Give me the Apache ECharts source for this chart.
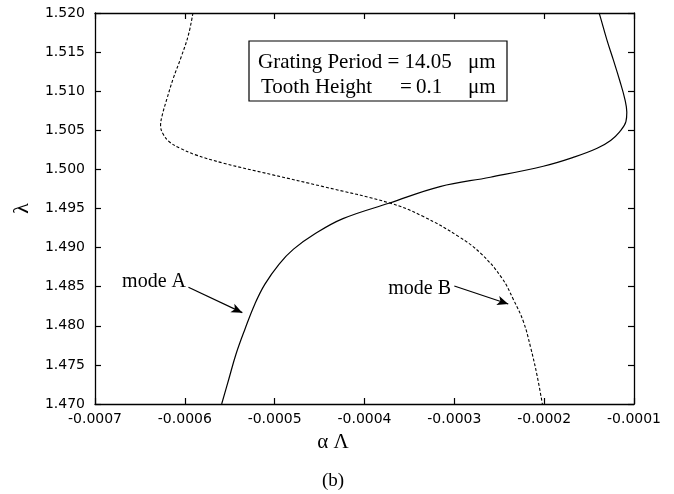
<!DOCTYPE html>
<html>
<head>
<meta charset="utf-8">
<script src="https://cdn.jsdelivr.net/npm/echarts@6/dist/echarts.min.js"></script>
<style>html,body{margin:0;padding:0;background:#fff}#chart{width:674px;height:494px}</style>
</head>
<body>
<div id="chart"></div>
<script>
// Mode A (solid curve): alpha*Lambda vs lambda
const modeA_x = [-0.000559, -0.000551, -0.000543, -0.000533, -0.000522, -0.000511, -0.000495, -0.000479, -0.000456, -0.000424, -0.000372, -0.000316, -0.000260, -0.000201, -0.000166, -0.000141, -0.000126, -0.000116, -0.000109, -0.000108, -0.000110, -0.000116, -0.000123, -0.000130, -0.000138, -0.000139];
const modeA_y = [1.4700, 1.4732, 1.4764, 1.4796, 1.4828, 1.4853, 1.4879, 1.4898, 1.4917, 1.4937, 1.4957, 1.4978, 1.4990, 1.5004, 1.5016, 1.5027, 1.5037, 1.5048, 1.5061, 1.5073, 1.5089, 1.5114, 1.5140, 1.5165, 1.5197, 1.5200];
// Mode B (dashed curve)
const modeB_x = [-0.000591, -0.000596, -0.000604, -0.000613, -0.000620, -0.000625, -0.000627, -0.000624, -0.000617, -0.000605, -0.000589, -0.000557, -0.000502, -0.000446, -0.000372, -0.000335, -0.000295, -0.000270, -0.000247, -0.000234, -0.000223, -0.000215, -0.000208, -0.000202];
const modeB_y = [1.5200, 1.5172, 1.5144, 1.5116, 1.5090, 1.5070, 1.5056, 1.5045, 1.5035, 1.5027, 1.5019, 1.5008, 1.4993, 1.4978, 1.4957, 1.4940, 1.4914, 1.4892, 1.4861, 1.4833, 1.4805, 1.4772, 1.4737, 1.4700];
// Axis ranges / ticks
const xMin = -0.0007, xMax = -0.0001, xStep = 0.0001;
const yMin = 1.470, yMax = 1.520, yStep = 0.005;
// Annotation arrows (data coords): [x1, y1, x2, y2]
const arrowA = [-0.000596, 1.48492, -0.000536, 1.48168];
const arrowB = [-0.000300, 1.48509, -0.000240, 1.48279];
const labelA = 'mode A', labelB = 'mode B';
const xTitle = 'α Λ', yTitle = 'λ', caption = '(b)';
const boxLine1 = ['Grating Period = 14.05', 'μm'];
const boxLine2 = ['Tooth Height', '=', '0.1', 'μm'];

const pairs = (xs, ys) => xs.map((x, i) => [x, ys[i]]);
const sansFont = 'DejaVu Sans';
const serifFont = 'Liberation Serif';

const chart = echarts.init(document.getElementById('chart'), null, {renderer: 'canvas'});

const baseX = {
  type: 'value', min: xMin, max: xMax, interval: xStep,
  axisLine: {show: true, onZero: false, lineStyle: {color: '#000', width: 1.3}},
  axisTick: {show: true, inside: true, length: 6, lineStyle: {color: '#000', width: 1.2}},
  splitLine: {show: false}
};
const baseY = {
  type: 'value', min: yMin, max: yMax, interval: yStep,
  axisLine: {show: true, onZero: false, lineStyle: {color: '#000', width: 1.3}},
  axisTick: {show: true, inside: true, length: 6, lineStyle: {color: '#000', width: 1.2}},
  splitLine: {show: false}
};

const arrowLine = (a) => ({
  silent: true, symbol: ['none', 'arrow'], symbolSize: [7, 11],
  lineStyle: {color: '#000', width: 1.2, type: 'solid'},
  label: {show: false},
  data: [[{coord: [a[0], a[1]]}, {coord: [a[2], a[3]]}]]
});

const boxFont = '21px "Liberation Serif"';
const txt = (t, x, y, font, align) => ({
  type: 'text', x: x, y: y, z: 11,
  style: {text: t, font: font, fill: '#000', textAlign: align || 'left', textVerticalAlign: 'middle'}
});

chart.setOption({
  animation: false,
  backgroundColor: '#fff',
  grid: {left: 95, right: 40, top: 13, bottom: 90, containLabel: false},
  xAxis: [
    Object.assign({}, baseX, {
      position: 'bottom',
      axisLabel: {show: true, margin: 8, color: '#000', fontFamily: sansFont, fontSize: 14,
        formatter: v => v.toFixed(4)}
    }),
    Object.assign({}, baseX, {position: 'top', axisLabel: {show: false}})
  ],
  yAxis: [
    Object.assign({}, baseY, {
      position: 'left',
      name: yTitle, nameLocation: 'middle', nameGap: 62, nameRotate: 90,
      nameTextStyle: {color: '#000', fontFamily: serifFont, fontSize: 22},
      axisLabel: {show: true, margin: 10, color: '#000', fontFamily: sansFont, fontSize: 14,
        formatter: v => v.toFixed(3)}
    }),
    Object.assign({}, baseY, {position: 'right', axisLabel: {show: false}})
  ],
  series: [
    {
      name: 'mode A', type: 'line', xAxisIndex: 0, yAxisIndex: 0,
      data: pairs(modeA_x, modeA_y), showSymbol: false, smooth: 0.4,
      lineStyle: {color: '#000', width: 1.2, type: 'solid'},
      markLine: arrowLine(arrowA)
    },
    {
      name: 'mode B', type: 'line', xAxisIndex: 0, yAxisIndex: 0,
      data: pairs(modeB_x, modeB_y), showSymbol: false, smooth: 0.4,
      lineStyle: {color: '#000', width: 1.1, type: [3, 2]},
      markLine: arrowLine(arrowB)
    }
  ],
  graphic: [
    {type: 'rect', shape: {x: 249, y: 41, width: 258, height: 60},
     style: {fill: '#fff', stroke: '#000', lineWidth: 1.2}, z: 10},
    txt(boxLine1[0], 258, 62, boxFont),
    txt(boxLine1[1], 468, 62, boxFont),
    txt(boxLine2[0], 261, 87, boxFont),
    txt(boxLine2[1], 400, 87, boxFont),
    txt(boxLine2[2], 416, 87, boxFont),
    txt(boxLine2[3], 468, 87, boxFont),
    txt(labelA, 186, 282, '20px "Liberation Serif"', 'right'),
    txt(labelB, 451, 289, '20px "Liberation Serif"', 'right'),
    txt(xTitle, 333, 442, '21px "Liberation Serif"', 'center'),
    txt(caption, 333, 481, '19px "Liberation Serif"', 'center')
  ]
});
</script>
</body>
</html>
